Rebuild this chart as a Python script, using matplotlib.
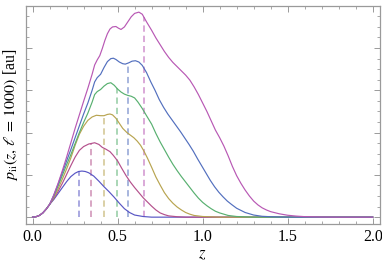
###
# Densite p_ii(z, l = 1000) pour plusieurs valeurs du parametre
# les traits en tirets marquent la position moyenne de chaque courbe
###

import numpy
import matplotlib
matplotlib.use("Agg")
import matplotlib.pyplot as plt
from matplotlib.ticker import MultipleLocator, FormatStrFormatter

# debut commun a toutes les courbes
Z_START = [0.0, 0.02, 0.04, 0.06, 0.08, 0.10]
P_START = [0.0, 0.01, 0.04, 0.10, 0.19, 0.30]

# courbe 1 (bleu fonce, la plus basse)
Z_1 = Z_START + [0.125, 0.15, 0.175, 0.20, 0.225, 0.25, 0.27, 0.29, 0.31, 0.33, 0.36, 0.39,
                 0.42, 0.45, 0.48, 0.51, 0.54, 0.57, 0.60, 0.65, 0.70, 2.0]
P_1 = P_START + [0.42, 0.56, 0.70, 0.84, 0.96, 1.04, 1.08, 1.09, 1.08, 1.05, 0.97, 0.85,
                 0.72, 0.60, 0.47, 0.33, 0.20, 0.11, 0.05, 0.015, 0.0, 0.0]

# courbe 2 (rouge)
Z_2 = Z_START + [0.125, 0.15, 0.175, 0.20, 0.225, 0.25, 0.275, 0.30, 0.33, 0.365, 0.39, 0.41,
                 0.43, 0.455, 0.475, 0.50, 0.525, 0.55, 0.575, 0.60, 0.625, 0.65, 0.675,
                 0.70, 0.725, 0.75, 0.775, 0.80, 0.85, 0.90, 2.0]
P_2 = P_START + [0.44, 0.61, 0.80, 1.01, 1.22, 1.42, 1.58, 1.67, 1.73, 1.76, 1.72, 1.65,
                 1.61, 1.55, 1.46, 1.33, 1.15, 0.98, 0.83, 0.70, 0.58, 0.46, 0.36,
                 0.26, 0.17, 0.10, 0.06, 0.03, 0.01, 0.0, 0.0]

# courbe 3 (jaune)
Z_3 = Z_START + [0.125, 0.15, 0.175, 0.20, 0.225, 0.25, 0.275, 0.30, 0.325, 0.35, 0.375, 0.40,
                 0.42, 0.44, 0.455, 0.47, 0.49, 0.51, 0.53, 0.555, 0.575, 0.595, 0.615,
                 0.635, 0.655, 0.675, 0.70, 0.725, 0.75, 0.775, 0.80, 0.825, 0.85, 0.875,
                 0.90, 0.925, 0.95, 1.0, 1.1, 2.0]
P_3 = P_START + [0.47, 0.67, 0.90, 1.14, 1.40, 1.70, 1.96, 2.15, 2.29, 2.37, 2.41, 2.40,
                 2.40, 2.43, 2.44, 2.42, 2.34, 2.22, 2.10, 2.00, 1.94, 1.88, 1.80,
                 1.70, 1.56, 1.40, 1.18, 0.95, 0.76, 0.58, 0.44, 0.33, 0.24, 0.17,
                 0.11, 0.07, 0.04, 0.015, 0.0, 0.0]

# courbe 4 (vert)
Z_4 = Z_START + [0.125, 0.15, 0.175, 0.20, 0.225, 0.25, 0.275, 0.30, 0.325, 0.35, 0.365, 0.38,
                 0.40, 0.42, 0.44, 0.46, 0.48, 0.50, 0.52, 0.54, 0.56, 0.58, 0.60, 0.62,
                 0.645, 0.67, 0.70, 0.725, 0.75, 0.775, 0.80, 0.825, 0.85, 0.875, 0.90,
                 0.925, 0.95, 0.975, 1.0, 1.025, 1.05, 1.075, 1.10, 1.15, 1.20, 1.30, 2.0]
P_4 = P_START + [0.50, 0.74, 0.99, 1.24, 1.48, 1.74, 2.00, 2.24, 2.46, 2.72, 2.90, 2.97,
                 3.02, 3.10, 3.16, 3.18, 3.12, 3.03, 2.96, 2.91, 2.88, 2.86, 2.82, 2.72,
                 2.57, 2.40, 2.20, 1.98, 1.78, 1.60, 1.42, 1.25, 1.10, 0.96, 0.83,
                 0.70, 0.57, 0.45, 0.35, 0.27, 0.20, 0.14, 0.10, 0.04, 0.015, 0.0, 0.0]

# courbe 5 (bleu)
Z_5 = Z_START + [0.125, 0.15, 0.175, 0.20, 0.225, 0.25, 0.275, 0.30, 0.325, 0.35, 0.365, 0.38,
                 0.40, 0.42, 0.44, 0.46, 0.475, 0.49, 0.51, 0.53, 0.545, 0.565, 0.585,
                 0.605, 0.625, 0.645, 0.67, 0.695, 0.72, 0.745, 0.77, 0.795, 0.82, 0.845,
                 0.87, 0.895, 0.92, 0.945, 0.97, 0.995, 1.02, 1.045, 1.07, 1.095, 1.12,
                 1.145, 1.17, 1.20, 1.25, 1.30, 1.35, 1.40, 1.50, 2.0]
P_5 = P_START + [0.52, 0.78, 1.06, 1.33, 1.60, 1.88, 2.16, 2.44, 2.70, 3.00, 3.20, 3.30,
                 3.38, 3.54, 3.68, 3.75, 3.76, 3.73, 3.67, 3.63, 3.62, 3.65, 3.69,
                 3.70, 3.67, 3.59, 3.42, 3.20, 3.00, 2.78, 2.60, 2.44, 2.30, 2.16,
                 2.02, 1.87, 1.72, 1.56, 1.38, 1.21, 1.04, 0.87, 0.72, 0.59, 0.48,
                 0.38, 0.30, 0.21, 0.11, 0.05, 0.02, 0.01, 0.0, 0.0]

# courbe 6 (magenta, la plus haute)
Z_6 = Z_START + [0.125, 0.15, 0.175, 0.20, 0.225, 0.25, 0.275, 0.30, 0.325, 0.35, 0.365, 0.38,
                 0.395, 0.41, 0.425, 0.44, 0.455, 0.47, 0.49, 0.505, 0.52, 0.54, 0.56,
                 0.58, 0.60, 0.625, 0.645, 0.67, 0.70, 0.725, 0.75, 0.775, 0.80, 0.825,
                 0.85, 0.875, 0.90, 0.925, 0.95, 0.975, 1.0, 1.025, 1.05, 1.075, 1.10,
                 1.125, 1.15, 1.175, 1.20, 1.225, 1.25, 1.275, 1.30, 1.325, 1.35, 1.375,
                 1.40, 1.45, 1.50, 1.55, 1.60, 1.70, 1.80, 2.0]
P_6 = P_START + [0.53, 0.80, 1.10, 1.42, 1.76, 2.10, 2.42, 2.74, 3.05, 3.38, 3.60, 3.72,
                 3.82, 3.99, 4.18, 4.34, 4.45, 4.50, 4.51, 4.47, 4.44, 4.50, 4.62,
                 4.74, 4.82, 4.85, 4.80, 4.62, 4.42, 4.24, 4.08, 3.92, 3.78, 3.66,
                 3.56, 3.46, 3.36, 3.24, 3.08, 2.90, 2.70, 2.50, 2.28, 2.06, 1.88,
                 1.68, 1.45, 1.20, 0.98, 0.80, 0.64, 0.50, 0.38, 0.29, 0.22, 0.17,
                 0.13, 0.08, 0.045, 0.025, 0.012, 0.003, 0.0, 0.0]

# positions moyennes (traits en tirets)
Z_MEAN = [0.270, 0.342, 0.417, 0.496, 0.560, 0.653]

CURVES = [(Z_1, P_1), (Z_2, P_2), (Z_3, P_3), (Z_4, P_4), (Z_5, P_5), (Z_6, P_6)]
COLORS = ["#5856c4", "#b4508c", "#b8a450", "#58b070", "#526fbe", "#b858b4"]

plt.rcParams["font.family"] = "Liberation Serif"
plt.rcParams["mathtext.fontset"] = "stix"

fig = plt.figure(figsize=(3.82, 2.63), dpi=100)
ax = fig.add_axes([0.0675, 0.147, 0.926, 0.831])

# tirets d_abord, courbes par dessus
for (z, p), zm, col in zip(CURVES, Z_MEAN, COLORS):
    top = numpy.interp(zm, z, p)
    ax.plot([zm, zm], [0, top], color=col, lw=1.3, ls=(0, (3.5, 2.2)), alpha=0.55)

for (z, p), col in zip(CURVES, COLORS):
    ax.plot(z, p, color=col, lw=0.85)

ax.set_xlim(-0.04, 2.04)
ax.set_ylim(-0.17, 5.0)

ax.xaxis.set_major_locator(MultipleLocator(0.5))
ax.xaxis.set_minor_locator(MultipleLocator(0.1))
ax.yaxis.set_major_locator(MultipleLocator(1.0))
ax.yaxis.set_minor_locator(MultipleLocator(0.25))
ax.xaxis.set_major_formatter(FormatStrFormatter("%.1f"))
ax.set_yticklabels([])

for sp in ax.spines.values():
    sp.set_color("#9a9a9a")
    sp.set_linewidth(0.9)
ax.tick_params(which="both", direction="in", top=True, right=True, color="#9a9a9a",
               labelsize=11.5, pad=3)
ax.tick_params(which="major", length=4, width=0.7)
ax.tick_params(which="minor", length=2.2, width=0.6)

ax.set_xlabel(r"$z$", fontsize=12, labelpad=1)
ax.set_ylabel(r"$p_{\mathrm{ii}}(z,\,\ell\,=\,1000)$ [au]", fontsize=11.5)
ax.yaxis.set_label_coords(-0.016, 0.5)

fig.savefig("out.png", dpi=100)
